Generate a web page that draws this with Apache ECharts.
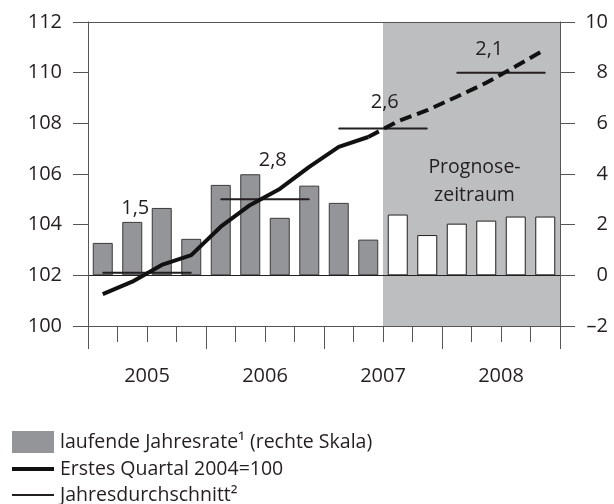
<!DOCTYPE html>
<html><head><meta charset="utf-8">
<script src="https://cdn.jsdelivr.net/npm/echarts@6/dist/echarts.min.js"></script>
<style>html,body{margin:0;padding:0;background:#fff}#c{width:614px;height:504px}</style>
</head><body><div id="c"></div>
<script>
// ---- data ----
const quarters = ['2005 Q1','2005 Q2','2005 Q3','2005 Q4','2006 Q1','2006 Q2','2006 Q3','2006 Q4',
                  '2007 Q1','2007 Q2','2007 Q3','2007 Q4','2008 Q1','2008 Q2','2008 Q3','2008 Q4'];
const yearLabels = ['2005','2006','2007','2008'];
const rateValues = [1.28,2.11,2.66,1.44,3.57,3.99,2.27,3.54,2.86,1.41,2.40,1.59,2.04,2.16,2.32,2.32];
const forecastStart = 10;
const indexActual = [101.26,101.75,102.41,102.80,103.92,104.78,105.41,106.28,107.07,107.46];
const indexForecast = [108.08,108.52,109.05,109.60,110.25,110.92];
const yearAverages = [102.1,105.0,107.8,110.0];
const averageRateLabels = ['1,5','2,8','2,6','2,1'];
const leftRange = [100,112];
const rightRange = [-2,10];
const forecastText = 'Prognose-\nzeitraum';
const legendNames = ['laufende Jahresrate\u00b9 (rechte Skala)','Erstes Quartal 2004=100','Jahresdurchschnitt\u00b2'];

// ---- chart ----
const FONT = 'Open Sans';
const TXT = '#231f20';
const AX = '#555';
const chart = echarts.init(document.getElementById('c'), null, {renderer:'canvas'});

const labelPlacement = [ {idx:1, off:[3,-65]}, {idx:2, off:[-7,-39]}, {idx:2, off:[-13,-26]}, {idx:1, off:[3,-23]} ];

const avgSeries = yearAverages.map((avg, y) => {
  const data = quarters.map(() => null);
  for (let q = 0; q < 4; q++) {
    const i = y*4 + q;
    if (q === labelPlacement[y].idx) {
      data[i] = {value: avg, label: {show: true, formatter: averageRateLabels[y], position: 'inside',
        offset: labelPlacement[y].off, fontSize: 20, fontFamily: FONT, color: TXT}};
    } else data[i] = avg;
  }
  return {type:'line', name: legendNames[2], xAxisIndex:0, yAxisIndex:0, data,
    symbol:'circle', symbolSize:1, showSymbol:true, itemStyle:{color:TXT},
    lineStyle:{color:TXT, width:2}, z:5, silent:true, connectNulls:false};
});

const forecastLine = quarters.map(() => null);
forecastLine[forecastStart-1] = indexActual[indexActual.length-1];
indexForecast.forEach((v,i) => forecastLine[forecastStart+i] = v);

const noLines = {splitLine:{show:false}, splitArea:{show:false}, minorTick:{show:false}, minorSplitLine:{show:false}};

const option = {
  animation: false,
  textStyle: {fontFamily: FONT, color: TXT},
  grid: {left: 88, right: 54, top: 22, bottom: 178, containLabel: false, show: false},
  legend: {
    orient:'vertical', left: 10, top: 431, itemWidth: 42, itemHeight: 22, itemGap: 6,
    selectedMode: false, padding: 0,
    textStyle: {fontSize: 19.5, fontFamily: FONT, color: TXT, padding:[0,0,0,1]},
    data: [
      {name: legendNames[0], icon: 'rect', itemStyle:{borderWidth:0, color:'#939598'}},
      {name: legendNames[1], icon: 'line', itemStyle:{color:'#111', borderColor:'#111', borderWidth:4}},
      {name: legendNames[2], icon: 'line', itemStyle:{color:TXT, borderColor:TXT, borderWidth:2}}
    ]
  },
  xAxis: [
    Object.assign({type:'category', data: quarters, position:'bottom', boundaryGap: true, z: 10,
     axisLine:{show:true, onZero:false, lineStyle:{color:AX, width:1}},
     axisTick:{show:true, interval:0, length:16, lineStyle:{color:AX}},
     axisLabel:{show:false}}, noLines),
    Object.assign({type:'value', min:0, max:16, interval:4, position:'bottom', z: 10,
     axisLine:{show:false, onZero:false}, axisTick:{show:true, length:23, lineStyle:{color:AX}},
     axisLabel:{show:false}}, noLines),
    Object.assign({type:'value', min:0, max:16, interval:2, position:'bottom',
     axisLine:{show:false, onZero:false}, axisTick:{show:false},
     axisLabel:{show:true, margin:40, fontSize:20, fontFamily:FONT, color:TXT,
       formatter: v => (v % 4 === 2) ? yearLabels[(v-2)/4] : ''}}, noLines),
    Object.assign({type:'category', data: quarters, position:'top', z: 10,
     axisLine:{show:true, onZero:false, lineStyle:{color:AX, width:1}},
     axisTick:{show:false}, axisLabel:{show:false}}, noLines)
  ],
  yAxis: [
    Object.assign({type:'value', min:leftRange[0], max:leftRange[1], interval:2, position:'left', z: 10,
     axisLine:{show:true, onZero:false, lineStyle:{color:AX}}, axisTick:{show:true, length:15, lineStyle:{color:AX}},
     axisLabel:{margin:26, fontSize:20, fontFamily:FONT, color:TXT}}, noLines),
    Object.assign({type:'value', min:rightRange[0], max:rightRange[1], interval:2, position:'right', z: 10,
     axisLine:{show:true, onZero:false, lineStyle:{color:AX}}, axisTick:{show:true, length:15, lineStyle:{color:AX}},
     axisLabel:{margin:48, align:'right', fontSize:20, fontFamily:FONT, color:TXT,
       formatter: v => v < 0 ? '\u2013' + Math.abs(v) : String(v)}}, noLines)
  ],
  series: [
    {type:'line', name:'shade', xAxisIndex:1, yAxisIndex:0, data:[], z:1, silent:true,
     markArea:{silent:true, itemStyle:{color:'#bcbec0'},
       label:{show:true, position:'inside', offset:[3,7], fontSize:19.5, lineHeight:28,
              fontFamily:FONT, color:TXT, formatter: forecastText},
       data:[[{xAxis: forecastStart}, {xAxis: quarters.length}]]}},
    {type:'bar', name: legendNames[0], xAxisIndex:0, yAxisIndex:1, barWidth:20, z:3,
     itemStyle:{color:'#939598', borderColor:'#3a3a3a', borderWidth:1},
     data: rateValues.map((v,i) => i >= forecastStart ? {value:v, itemStyle:{color:'#ffffff', borderColor:TXT, borderWidth:1}} : v),
     markLine:{silent:true, symbol:['none','none'], label:{show:false},
       lineStyle:{color:TXT, width:1, type:'solid'}, data:[{yAxis:0}]}},
    {type:'line', name: legendNames[1], xAxisIndex:0, yAxisIndex:0, data: indexActual,
     symbol:'none', lineStyle:{color:'#111', width:4}, itemStyle:{color:'#111'}, z:6, silent:true},
    {type:'line', name:'forecast', xAxisIndex:0, yAxisIndex:0, data: forecastLine,
     symbol:'none', lineStyle:{color:'#111', width:4, type:[12,6]}, z:6, silent:true},
    ...avgSeries
  ]
};
chart.setOption(option);
</script>
</body></html>
